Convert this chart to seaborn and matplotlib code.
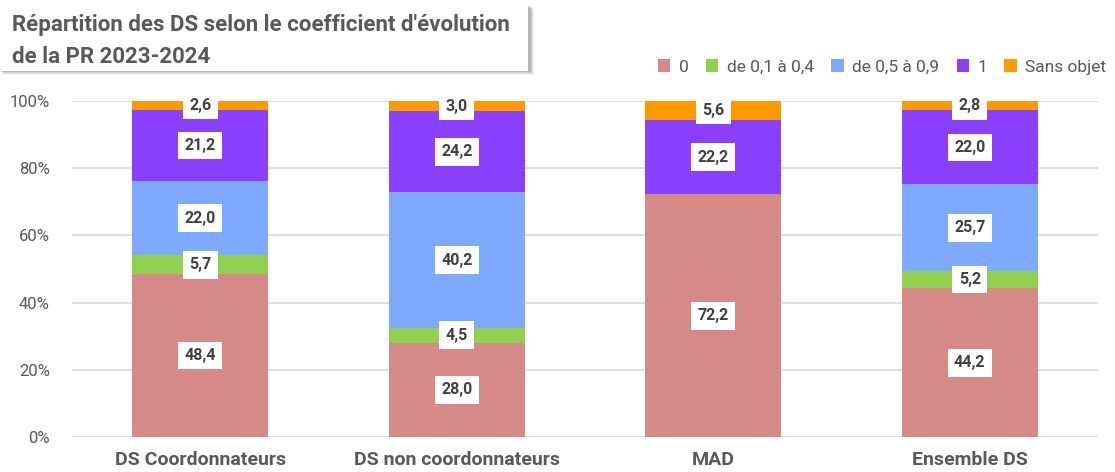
import numpy as np
import pandas as pd
import matplotlib
matplotlib.use("Agg")
import matplotlib.pyplot as plt
import seaborn as sns
from matplotlib.patches import Patch, Rectangle
from matplotlib.ticker import PercentFormatter

categories = ["DS Coordonnateurs", "DS non coordonnateurs", "MAD", "Ensemble DS"]
series_names = ["0", "de 0,1 à 0,4", "de 0,5 à 0,9", "1", "Sans objet"]
val_0 = [48.4, 28.0, 72.2, 44.2]
val_01_04 = [5.7, 4.5, 0.0, 5.2]
val_05_09 = [22.0, 40.2, 0.0, 25.7]
val_1 = [21.2, 24.2, 22.2, 22.0]
val_sans = [2.6, 3.0, 5.6, 2.8]
colors = ["#D58A88", "#92D050", "#7FA9FF", "#8C40FF", "#FF9900"]

sns.set_theme(style="white")
plt.rcParams["font.family"] = ["Roboto", "DejaVu Sans"]
grey = "#595959"

layers = np.array([val_0, val_01_04, val_05_09, val_1, val_sans])
totals = layers.sum(axis=0)
shares = layers / totals * 100
cum = shares.cumsum(axis=0)

fig = plt.figure(figsize=(11.15, 4.72), dpi=100)
ax = fig.add_axes([72 / 1115, 35 / 472, 1026 / 1115, 336 / 472])

# stacked bars: draw cumulative totals from the top layer down
for i in range(len(series_names) - 1, -1, -1):
    df = pd.DataFrame({"cat": categories, "val": cum[i]})
    sns.barplot(data=df, x="cat", y="val", order=categories, color=colors[i],
                width=0.53, ax=ax, saturation=1, edgecolor="none", linewidth=0)

# value labels
for j in range(len(categories)):
    base = 0
    for i in range(len(series_names)):
        v = layers[i, j]
        h = shares[i, j]
        if v > 0:
            ax.text(j, base + h / 2, f"{v:.1f}".replace(".", ","), ha="center", va="center",
                    fontsize=11.5, fontweight="bold", color="#404040",
                    bbox=dict(boxstyle="square,pad=0.4", fc="white", ec="none"), zorder=5)
        base += h

ax.set_ylim(0, 100)
ax.set_xlim(-0.5, 3.5)
ax.set_yticks(np.arange(0, 101, 20))
ax.yaxis.set_major_formatter(PercentFormatter(decimals=0))
ax.grid(axis="y", color="#d9d9d9", linewidth=1.2)
ax.set_axisbelow(True)
for s in ax.spines.values():
    s.set_visible(False)
ax.tick_params(axis="y", length=0, pad=16, labelsize=12, labelcolor=grey)
ax.tick_params(axis="x", length=0, pad=10, labelsize=14, labelcolor=grey)
for lab in ax.get_xticklabels():
    lab.set_fontweight("bold")
ax.set_xlabel("")
ax.set_ylabel("")

handles = [Patch(facecolor=c, edgecolor="none") for c in colors]
fig.legend(handles, series_names, loc="center right", bbox_to_anchor=(1.0, 1 - 67 / 472),
           ncol=5, frameon=False, fontsize=12.5, labelcolor=grey, handlelength=0.7,
           handleheight=0.7, handletextpad=0.5, columnspacing=1.0, borderaxespad=0.1)

# title box with a soft shadow
for k, a in enumerate([0.10, 0.14, 0.20, 0.28]):
    off = 5 - k
    fig.patches.append(Rectangle(((off - 1) / 1115, 1 - (73 + off - 3) / 472), 530 / 1115, 66 / 472,
                                 transform=fig.transFigure, fc="#808080", alpha=a, ec="none", zorder=0))
fig.patches.append(Rectangle((0, 1 - 71 / 472), 528 / 1115, 66 / 472,
                             transform=fig.transFigure, fc="white", ec="none", zorder=1))
fig.text(12 / 1115, 1 - 25 / 472, "Répartition des DS selon le coefficient d'évolution",
         fontsize=16, fontweight="bold", color=grey, va="center", ha="left")
fig.text(12 / 1115, 1 - 57 / 472, "de la PR 2023-2024",
         fontsize=16, fontweight="bold", color=grey, va="center", ha="left")

fig.savefig("out.png", dpi=100)
